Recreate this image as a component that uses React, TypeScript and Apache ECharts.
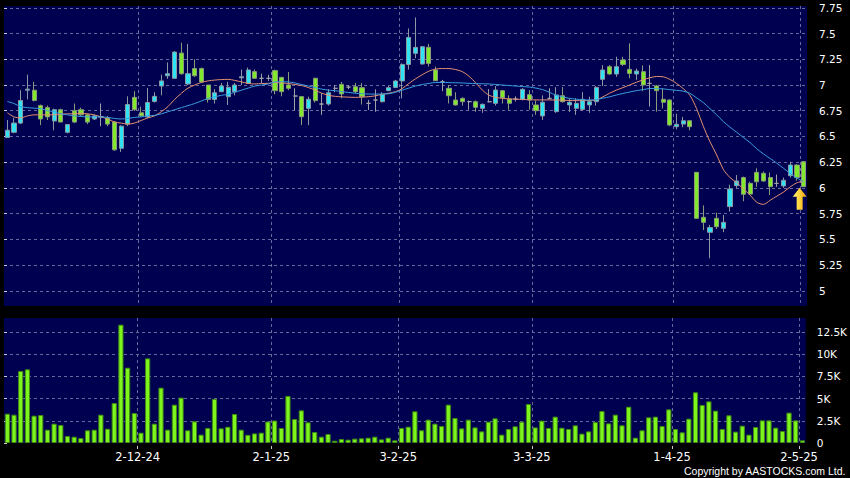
import React, { useEffect, useRef } from 'react';
import * as echarts from 'echarts';

// Trading days (HK), day numbers per month
const daysNov24 = [4, 5, 6, 7, 8, 11, 12, 13, 14, 15, 18, 19, 20, 21, 22, 25, 26, 27, 28, 29];
const daysDec24 = [2, 3, 4, 5, 6, 9, 10, 11, 12, 13, 16, 17, 18, 19, 20, 23, 24, 27, 30, 31];
const daysJan25 = [2, 3, 6, 7, 8, 9, 10, 13, 14, 15, 16, 17, 20, 21, 22, 23, 24, 27, 28];
const daysFeb25 = [3, 4, 5, 6, 7, 10, 11, 12, 13, 14, 17, 18, 19, 20, 21, 24, 25, 26, 27, 28];
const daysMar25 = [3, 4, 5, 6, 7, 10, 11, 12, 13, 14, 17, 18, 19, 20, 21, 24, 25, 26, 27, 28, 31];
const daysApr25 = [1, 2, 3, 7, 8, 9, 10, 11, 14, 15, 16, 17, 22, 23, 24, 25, 28, 29, 30];
const daysMay25 = [2];

const dates: string[] = [
  ...daysNov24.map((d) => `${d}-11-24`),
  ...daysDec24.map((d) => `${d}-12-24`),
  ...daysJan25.map((d) => `${d}-1-25`),
  ...daysFeb25.map((d) => `${d}-2-25`),
  ...daysMar25.map((d) => `${d}-3-25`),
  ...daysApr25.map((d) => `${d}-4-25`),
  ...daysMay25.map((d) => `${d}-5-25`),
];

// [open, close, low, high]
const candles: number[][] = [
  [6.49, 6.56, 6.49, 6.66], [6.54, 6.63, 6.53, 6.68], [6.63, 6.85, 6.62, 6.95], [6.95, 6.96, 6.86, 7.10],
  [6.95, 6.85, 6.84, 7.03], [6.80, 6.67, 6.61, 6.81], [6.78, 6.69, 6.66, 6.80], [6.65, 6.76, 6.56, 6.77],
  [6.76, 6.64, 6.64, 6.77], [6.54, 6.615, 6.53, 6.62], [6.75, 6.64, 6.63, 6.82], [6.76, 6.71, 6.70, 6.78],
  [6.71, 6.64, 6.62, 6.72], [6.67, 6.70, 6.66, 6.71], [6.69, 6.69, 6.60, 6.82], [6.68, 6.62, 6.60, 6.70],
  [6.64, 6.37, 6.36, 6.65], [6.385, 6.60, 6.35, 6.61], [6.62, 6.81, 6.60, 6.89], [6.88, 6.76, 6.75, 6.94],
  [6.73, 6.70, 6.69, 6.79], [6.69, 6.83, 6.68, 6.97], [6.84, 6.89, 6.83, 6.93], [6.99, 7.04, 6.90, 7.10],
  [7.09, 7.11, 7.06, 7.22], [7.065, 7.32, 7.06, 7.33], [7.31, 7.11, 7.10, 7.41], [7.01, 7.11, 7.00, 7.40],
  [7.16, 7.09, 7.08, 7.25], [7.16, 7.03, 7.02, 7.17], [7.00, 6.86, 6.83, 7.00], [6.86, 6.925, 6.82, 6.96],
  [6.935, 6.99, 6.93, 7.02], [6.886, 6.978, 6.805, 7.03], [6.935, 7.00, 6.90, 7.02], [7.07, 7.08, 7.00, 7.15],
  [7.016, 7.146, 7.01, 7.17], [7.13, 7.065, 7.06, 7.15], [7.065, 7.065, 7.02, 7.11], [7.065, 7.065, 7.04, 7.10],
  [7.14, 6.945, 6.91, 7.15], [7.074, 6.935, 6.89, 7.08], [7.0, 6.968, 6.95, 7.126], [6.893, 6.893, 6.757, 6.968],
  [6.887, 6.692, 6.61, 6.89], [6.773, 6.861, 6.61, 6.887], [7.065, 6.848, 6.83, 7.07], [6.815, 6.815, 6.71, 6.92],
  [6.815, 6.925, 6.80, 6.96], [6.968, 6.968, 6.93, 7.0], [7.006, 6.913, 6.87, 7.03], [6.98, 6.98, 6.96, 7.0],
  [6.984, 6.935, 6.92, 7.02], [6.974, 6.887, 6.81, 7.02], [6.822, 6.822, 6.757, 6.855], [6.854, 6.854, 6.74, 6.958],
  [6.838, 6.909, 6.83, 6.93], [6.945, 6.974, 6.94, 6.99], [6.977, 7.039, 6.97, 7.05], [7.039, 7.20, 6.87, 7.21],
  [7.20, 7.463, 7.15, 7.55], [7.308, 7.366, 7.26, 7.657], [7.204, 7.372, 7.20, 7.38], [7.366, 7.21, 7.18, 7.40],
  [7.146, 7.042, 7.04, 7.18], [7.032, 7.032, 6.94, 7.05], [6.968, 6.896, 6.82, 7.0], [6.854, 6.806, 6.80, 6.93],
  [6.87, 6.838, 6.80, 6.88], [6.838, 6.838, 6.76, 6.85], [6.838, 6.783, 6.74, 6.85], [6.773, 6.812, 6.73, 6.82],
  [6.838, 6.838, 6.83, 6.96], [6.822, 6.951, 6.80, 6.99], [6.945, 6.877, 6.82, 6.95], [6.864, 6.822, 6.76, 6.90],
  [6.864, 6.864, 6.84, 6.89], [6.861, 6.958, 6.85, 6.97], [6.906, 6.854, 6.76, 6.95], [6.806, 6.75, 6.71, 6.85],
  [6.70, 6.832, 6.66, 6.90], [6.87, 6.87, 6.86, 6.968], [6.741, 6.903, 6.73, 6.98], [6.896, 6.838, 6.83, 6.98],
  [6.806, 6.832, 6.74, 6.87], [6.773, 6.822, 6.71, 6.87], [6.763, 6.861, 6.75, 6.93], [6.806, 6.838, 6.73, 6.886],
  [6.838, 6.977, 6.80, 6.99], [7.055, 7.146, 6.99, 7.194], [7.178, 7.107, 7.10, 7.194], [7.107, 7.178, 7.08, 7.275],
  [7.243, 7.20, 7.185, 7.275], [7.152, 7.113, 7.065, 7.405], [7.107, 7.136, 7.05, 7.16], [7.13, 7.0, 6.94, 7.19],
  [7.016, 7.016, 6.79, 7.194], [6.99, 6.945, 6.74, 7.0], [6.861, 6.832, 6.773, 6.968], [6.854, 6.611, 6.60, 6.86],
  [6.595, 6.618, 6.57, 6.72], [6.62, 6.653, 6.59, 6.69], [6.653, 6.595, 6.56, 6.653], [6.151, 5.704, 5.70, 6.151],
  [5.714, 5.665, 5.59, 5.83], [5.568, 5.614, 5.316, 5.64], [5.704, 5.623, 5.60, 5.76], [5.607, 5.665, 5.57, 5.737],
  [5.818, 5.99, 5.77, 6.03], [6.022, 6.067, 6.0, 6.125], [6.10, 5.938, 5.87, 6.11], [6.044, 5.94, 5.93, 6.06],
  [6.151, 6.06, 6.01, 6.19], [6.142, 6.067, 6.06, 6.16], [6.10, 6.012, 5.93, 6.15], [6.044, 6.044, 6.01, 6.13],
  [6.019, 6.074, 6.0, 6.10], [6.119, 6.222, 6.10, 6.255], [6.222, 6.10, 6.07, 6.23], [6.255, 6.012, 6.01, 6.26],
];

// short moving average (orange)
const maShort: number[] = [
  6.73, 6.69, 6.68, 6.70, 6.71, 6.71, 6.71, 6.71, 6.715, 6.72, 6.72, 6.725, 6.72, 6.71, 6.69, 6.67, 6.64, 6.63, 6.62, 6.63,
  6.655, 6.68, 6.70, 6.74, 6.79, 6.86, 6.92, 6.97, 7.00, 7.025, 7.04, 7.048, 7.053, 7.055, 7.045, 7.03, 7.015, 7.01, 7.015, 7.016,
  7.025, 7.02, 7.015, 7.005, 6.995, 6.975, 6.95, 6.92, 6.90, 6.89, 6.885, 6.882, 6.88, 6.882, 6.887, 6.895, 6.91, 6.92, 6.935, 6.965,
  7.015, 7.06, 7.10, 7.135, 7.155, 7.16, 7.16, 7.15, 7.13, 7.085, 7.02, 6.95, 6.90, 6.88, 6.87, 6.865, 6.862, 6.86, 6.857, 6.855,
  6.855, 6.855, 6.854, 6.852, 6.85, 6.848, 6.848, 6.85, 6.855, 6.885, 6.92, 6.95, 6.975, 7.0, 7.027, 7.05, 7.07, 7.083, 7.08, 7.055,
  7.016, 6.965, 6.90, 6.77, 6.60, 6.45, 6.32, 6.18, 6.10, 6.05, 5.99, 5.93, 5.86, 5.84, 5.88, 5.92, 5.96, 6.01, 6.05, 6.065,
];

// long moving average (blue)
const maLong: number[] = [
  6.84, 6.82, 6.79, 6.78, 6.775, 6.77, 6.75, 6.74, 6.72, 6.71, 6.70, 6.695, 6.69, 6.69, 6.69, 6.685, 6.675, 6.67, 6.675, 6.685,
  6.69, 6.70, 6.705, 6.72, 6.74, 6.76, 6.78, 6.80, 6.82, 6.845, 6.87, 6.885, 6.90, 6.91, 6.93, 6.95, 6.97, 6.99, 7.00, 7.01,
  7.03, 7.032, 7.03, 7.02, 7.005, 6.99, 6.975, 6.96, 6.95, 6.945, 6.935, 6.928, 6.92, 6.915, 6.912, 6.912, 6.912, 6.915, 6.93, 6.95,
  6.97, 6.99, 7.005, 7.015, 7.025, 7.025, 7.023, 7.022, 7.02, 7.016, 7.014, 7.012, 7.01, 7.005, 7.0, 6.995, 6.99, 6.985, 6.98, 6.97,
  6.955, 6.93, 6.90, 6.885, 6.87, 6.862, 6.856, 6.854, 6.858, 6.872, 6.885, 6.903, 6.918, 6.932, 6.945, 6.955, 6.966, 6.965, 6.962, 6.955,
  6.948, 6.94, 6.92, 6.875, 6.83, 6.77, 6.71, 6.645, 6.59, 6.54, 6.49, 6.44, 6.38, 6.33, 6.285, 6.24, 6.19, 6.14, 6.095, 6.06,
];

// volume (shares)
const volumes: number[] = [
  3300, 3190, 8110, 8300, 3080, 3150, 1500, 2180, 2030, 790, 710, 560, 1430, 1500, 3190, 1610, 4500, 13330, 8480, 3380,
  1160, 9530, 2180, 6230, 1500, 4320, 5110, 1430, 2440, 940, 1690, 4970, 1650, 1830, 3270, 1500, 920, 1080, 1160, 2420,
  2530, 1690, 5300, 2700, 3680, 2330, 1240, 710, 1010, 260, 450, 380, 490, 530, 600, 710, 410, 600, 300, 1690,
  1840, 3570, 1430, 2630, 2180, 1910, 4320, 2820, 1650, 2630, 1760, 1310, 2400, 2780, 940, 1580, 1880, 2400, 4390, 1760,
  2520, 1690, 2970, 1720, 1580, 1990, 1050, 1310, 2360, 3600, 2210, 3190, 1990, 4090, 600, 1430, 2890, 2970, 1910, 3790,
  1580, 1200, 2740, 5710, 4280, 4690, 3640, 1580, 3120, 1280, 1950, 940, 1800, 2550, 2550, 1730, 1350, 3420, 2550, 300,
];

const priceTicks = [5, 5.25, 5.5, 5.75, 6, 6.25, 6.5, 6.75, 7, 7.25, 7.5, 7.75];
const volumeTicks = [0, 2500, 5000, 7500, 10000, 12500];

// first trading day of each month (after the first day shown) gets a date label and a grid line
const monthOf = (d: string) => d.split('-')[1];
const monthStarts: number[] = [];
dates.forEach((d, i) => {
  if (i > 0 && monthOf(d) !== monthOf(dates[i - 1])) monthStarts.push(i);
});

const NAVY = '#000050';
const GRID_COLOR = '#68689a';
const GRIDLINE = { color: GRID_COLOR, width: 1, type: [3, 3] as number[] };
const FONT = 'DejaVu Sans';

export default function App() {
  const ref = useRef<HTMLDivElement>(null);
  useEffect(() => {
    const el = ref.current;
    if (!el) return;
    const chart = echarts.init(el, null, { renderer: 'svg' });
    const last = candles.length - 1;
    const hiddenCat = (gridIndex: number) => ({
      type: 'category', gridIndex, data: dates, boundaryGap: true,
      axisLine: { show: false }, axisTick: { show: false }, axisLabel: { show: false }, splitLine: { show: false },
    });
    // no dashed line on the zero baseline of the volume panel
    const volumeLineColors = volumeTicks.map((v) => (v === 0 ? 'rgba(0,0,0,0)' : GRID_COLOR));
    const option: any = {
      animation: false,
      backgroundColor: '#000',
      grid: [
        { left: 4, top: 6, width: 803, height: 300, show: true, backgroundColor: NAVY, borderWidth: 0 },
        { left: 4, top: 318, width: 803, height: 125, show: true, backgroundColor: NAVY, borderWidth: 0 },
      ],
      xAxis: [
        hiddenCat(0),
        hiddenCat(1),
        {
          // slot-boundary scale for the month grid lines of the price panel
          type: 'value', gridIndex: 0, position: 'bottom', min: 0, max: dates.length,
          axisLine: { show: false },
          axisTick: { show: false, customValues: monthStarts },
          axisLabel: { show: false, customValues: monthStarts },
          splitLine: { show: true, lineStyle: GRIDLINE },
        },
        {
          type: 'value', gridIndex: 1, position: 'bottom', min: 0, max: dates.length, offset: 3,
          axisLine: { show: false },
          axisTick: { show: true, length: 3, customValues: monthStarts, lineStyle: { color: '#cccccc' } },
          axisLabel: {
            customValues: monthStarts, color: '#ffffff', fontFamily: FONT, fontSize: 11.5, margin: 5,
            formatter: (v: number) => dates[Math.round(v)] ?? '',
          },
          splitLine: { show: true, lineStyle: GRIDLINE },
        },
      ],
      yAxis: [
        {
          type: 'value', gridIndex: 0, position: 'right', min: 4.852, max: 7.768, offset: 5,
          axisLine: { show: false },
          axisTick: { show: true, length: 3, customValues: priceTicks, lineStyle: { color: '#cccccc' } },
          axisLabel: { customValues: priceTicks, color: '#ffffff', fontFamily: FONT, fontSize: 10.5, margin: 7, formatter: (v: number) => String(v) },
          splitLine: { show: true, lineStyle: GRIDLINE },
        },
        {
          type: 'value', gridIndex: 1, position: 'right', min: 0, max: 14080, offset: 4,
          axisLine: { show: false },
          axisTick: { show: true, length: 3, customValues: volumeTicks, lineStyle: { color: '#cccccc' } },
          axisLabel: {
            customValues: volumeTicks, color: '#ffffff', fontFamily: FONT, fontSize: 10.5, margin: 7,
            formatter: (v: number) => (v === 0 ? '0' : `${v / 1000}K`),
          },
          splitLine: { show: true, lineStyle: { ...GRIDLINE, color: volumeLineColors } },
        },
      ],
      series: [
        {
          type: 'candlestick', xAxisIndex: 0, yAxisIndex: 0, data: candles, barWidth: 4.6, z: 2,
          itemStyle: {
            color: '#2fe3f2', color0: '#82e82c',
            borderColor: '#8a98a4', borderColor0: '#8a9a7a', borderColorDoji: '#a0a0a8', borderWidth: 1,
          },
          markPoint: {
            silent: true,
            label: { show: false },
            data: [
              {
                coord: [dates[last], candles[last][1]],
                symbol: 'path://M7 0 L14 9 L10 9 L10 22 L4 22 L4 9 L0 9 Z',
                symbolSize: [14, 22],
                symbolOffset: [-4, 12],
                itemStyle: {
                  color: {
                    type: 'linear', x: 0, y: 0, x2: 1, y2: 0,
                    colorStops: [
                      { offset: 0, color: '#fff27a' },
                      { offset: 0.5, color: '#ffd23a' },
                      { offset: 1, color: '#e39a10' },
                    ],
                  },
                },
              },
            ],
          },
        },
        {
          type: 'line', xAxisIndex: 0, yAxisIndex: 0, data: maShort, smooth: 0.3, showSymbol: false, z: 3,
          lineStyle: { color: '#e39070', width: 1 },
        },
        {
          type: 'line', xAxisIndex: 0, yAxisIndex: 0, data: maLong, smooth: 0.3, showSymbol: false, z: 3,
          lineStyle: { color: '#3a9de0', width: 1 },
        },
        {
          type: 'bar', xAxisIndex: 1, yAxisIndex: 1, data: volumes, barWidth: 5.2,
          itemStyle: { color: '#7ef51c', borderColor: '#3f8a14', borderWidth: 1 },
        },
      ],
      graphic: [
        {
          type: 'text', right: 4, top: 465,
          style: { text: 'Copyright by AASTOCKS.com Ltd.', fill: '#ffffff', font: '10.5px "Liberation Sans"' },
        },
      ],
    };
    chart.setOption(option);
    return () => chart.dispose();
  }, []);
  return (
    <div
      ref={ref}
      style={{ position: 'fixed', left: 0, top: 0, width: 850, height: 478, background: '#000' }}
    />
  );
}
